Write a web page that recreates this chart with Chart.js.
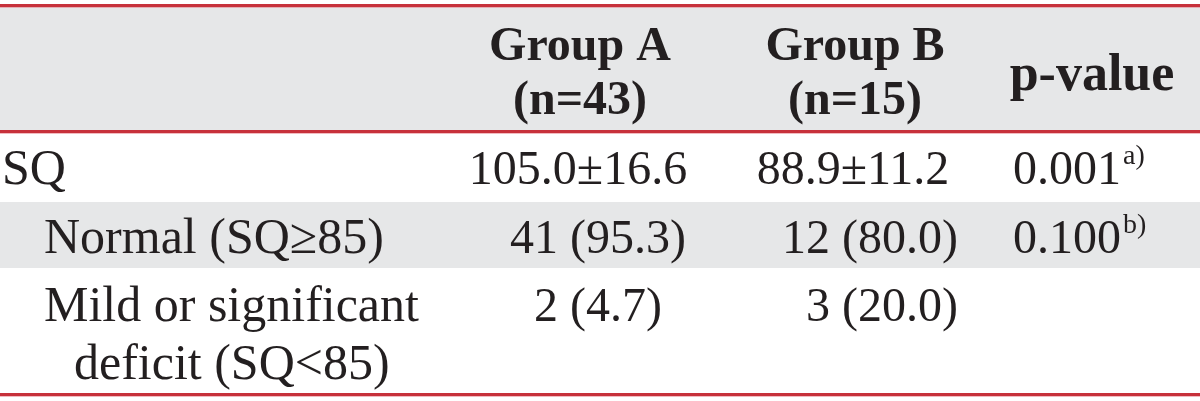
<!DOCTYPE html>
<html>
<head>
<meta charset="utf-8">
<script src="https://cdn.jsdelivr.net/npm/chart.js@4"></script>
<style>
  html, body { margin: 0; padding: 0; background: #fff; }
  #wrap { width: 1200px; height: 401px; position: relative; }
</style>
</head>
<body>
<div id="wrap"><canvas id="sqTable"></canvas></div>
<script>
// table content
const headerLines = [["", ""], ["Group A", "(n=43)"], ["Group B", "(n=15)"], ["p-value"]];
const rowLabels = [["SQ"], ["Normal (SQ\u226585)"], ["Mild or significant", "deficit (SQ<85)"]];
const rowIndent = [0, 1, 1];
const groupA = ["105.0\u00b116.6", "41 (95.3)", "2 (4.7)"];
const groupB = ["88.9\u00b111.2", "12 (80.0)", "3 (20.0)"];
const pValues = ["0.001", "0.100", ""];
const pNotes = ["a)", "b)", ""];
const shadedRows = [false, true, false];

// layout
const headerTop = 5, headerBottom = 131;
const rowBottoms = [200, 268, 394];
const red = "#c7313b";
const gray = "#e6e7e8";
const ink = "#231f20";
const serif = "'Liberation Serif', 'DejaVu Serif', serif";

const tablePlugin = {
  id: 'tablePlugin',
  beforeDraw(chart) {
    const ctx = chart.ctx;
    const w = chart.width;
    ctx.save();
    ctx.fillStyle = "#fff";
    ctx.fillRect(0, 0, w, chart.height);

    // header background
    ctx.fillStyle = gray;
    ctx.fillRect(0, headerTop, w, headerBottom - headerTop);

    // row backgrounds
    let top = headerBottom;
    rowBottoms.forEach((bottom, i) => {
      if (shadedRows[i]) {
        ctx.fillStyle = gray;
        ctx.fillRect(0, top + 2, w, bottom - top - 2);
      }
      top = bottom;
    });

    // rules
    const rules = [headerTop, headerBottom, rowBottoms[rowBottoms.length - 1]];
    ctx.fillStyle = red;
    rules.forEach(y => ctx.fillRect(0, y - 1, w, 3));
    ctx.fillStyle = "rgba(230,120,130,0.5)";
    rules.forEach(y => ctx.fillRect(0, y + 2, w, 1));

    // header text
    ctx.fillStyle = ink;
    ctx.textBaseline = "alphabetic";
    ctx.textAlign = "center";
    ctx.font = "bold 48px " + serif;
    [[1, 580], [2, 855]].forEach(([c, x]) => {
      ctx.fillText(headerLines[c][0], x, 60);
      ctx.fillText(headerLines[c][1], x, 114);
    });
    ctx.font = "bold 52px " + serif;
    ctx.fillText(headerLines[3][0], 1092, 90);

    // body text
    const labelFont = "50px " + serif;
    const valueFont = "48px " + serif;
    top = headerBottom;
    rowBottoms.forEach((bottom, i) => {
      const base = top + 53;
      ctx.font = labelFont;
      ctx.textAlign = "left";
      rowLabels[i].forEach((txt, k) => {
        const x = rowIndent[i] ? (k === 0 ? 44 : 74) : 2;
        ctx.fillText(txt, x, base + k * 58);
      });

      ctx.font = valueFont;
      // means row centred, count rows shifted like the source
      if (i === 0) {
        ctx.textAlign = "center";
        ctx.fillText(groupA[i], 578, base);
        ctx.fillText(groupB[i], 853, base);
      } else {
        ctx.textAlign = "center";
        ctx.fillText(groupA[i], 598, base);
        ctx.textAlign = "right";
        ctx.fillText(groupB[i], 958, base);
      }

      if (pValues[i]) {
        ctx.textAlign = "left";
        ctx.font = valueFont;
        const pw = ctx.measureText(pValues[i]).width;
        ctx.fillText(pValues[i], 1013, base);
        ctx.font = "28px " + serif;
        ctx.fillText(pNotes[i], 1013 + pw + 2, base - 20);
      }
      top = bottom;
    });
    ctx.restore();
  }
};

new Chart(document.getElementById('sqTable'), {
  type: 'bar',
  data: {
    labels: headerLines.slice(1).map(l => l.join(' ')),
    datasets: []
  },
  options: {
    responsive: true,
    maintainAspectRatio: false,
    animation: false,
    events: [],
    layout: { padding: 0 },
    plugins: {
      legend: { display: false },
      tooltip: { enabled: false },
      title: { display: false }
    },
    scales: {
      x: { display: false },
      y: { display: false }
    }
  },
  plugins: [tablePlugin]
});
</script>
</body>
</html>
